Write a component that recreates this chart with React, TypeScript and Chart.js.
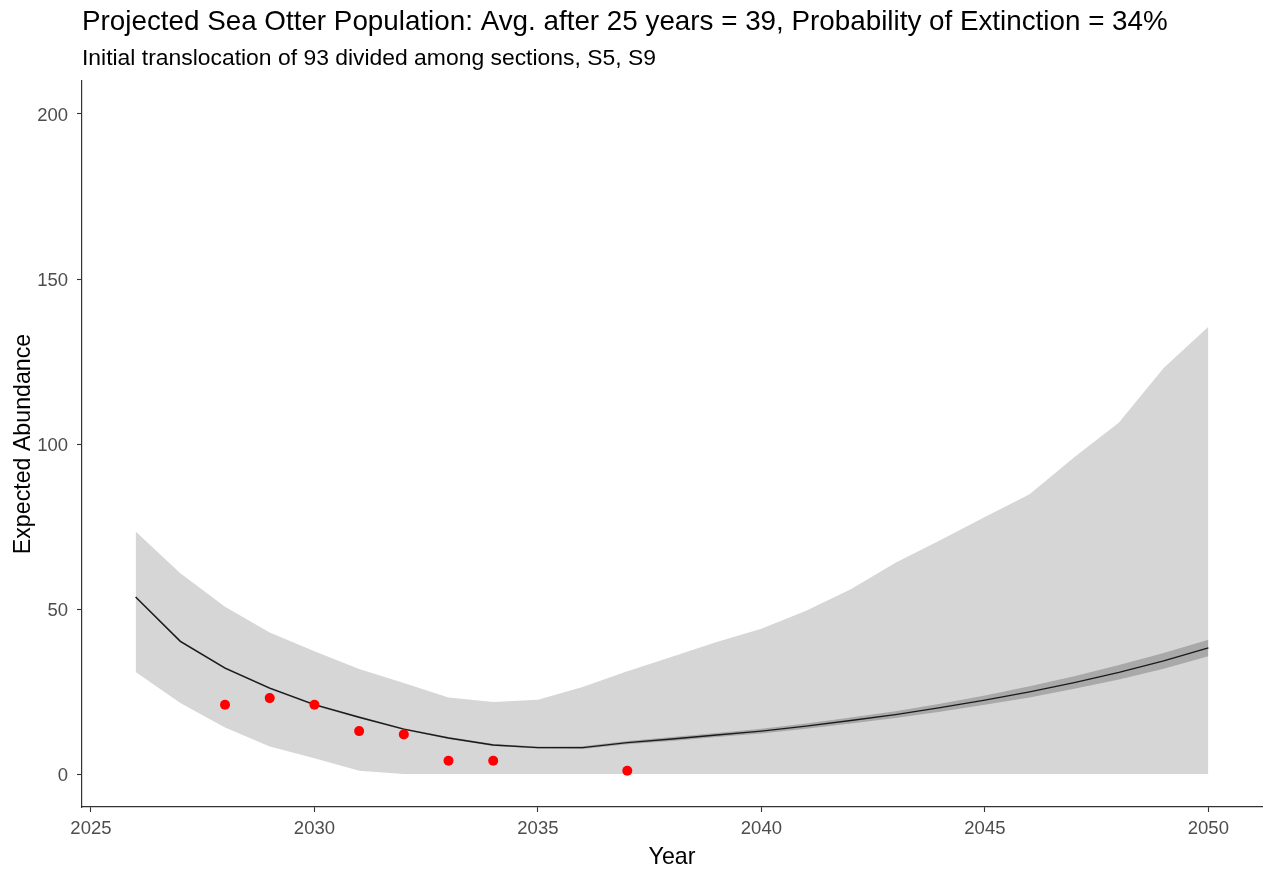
import { useEffect, useRef } from "react";
import { Chart, registerables } from "chart.js";

Chart.register(...registerables);

// Projection years
const years = [
  2026, 2027, 2028, 2029, 2030, 2031, 2032, 2033, 2034, 2035, 2036, 2037, 2038,
  2039, 2040, 2041, 2042, 2043, 2044, 2045, 2046, 2047, 2048, 2049, 2050,
];

// Mean projected abundance
const meanAbundance = [
  53.6, 40.2, 32.1, 26.0, 21.0, 17.2, 13.6, 10.9, 8.8, 8.0, 8.0, 9.5, 10.6,
  11.8, 13.0, 14.5, 16.2, 18.0, 20.1, 22.4, 24.9, 27.7, 30.8, 34.3, 38.2,
];

// Narrow band around the mean
const meanLower = [
  53.3, 39.9, 31.8, 25.7, 20.7, 16.9, 13.3, 10.6, 8.5, 7.7, 7.6, 9.0, 10.0,
  11.2, 12.3, 13.7, 15.3, 17.0, 18.9, 21.0, 23.2, 25.8, 28.6, 31.9, 35.7,
];
const meanUpper = [
  53.9, 40.5, 32.4, 26.3, 21.3, 17.5, 13.9, 11.2, 9.1, 8.3, 8.4, 10.0, 11.2,
  12.4, 13.7, 15.3, 17.1, 19.0, 21.3, 23.8, 26.6, 29.6, 33.0, 36.7, 40.7,
];

// Outer projection interval
const intervalLower = [
  30.9, 21.5, 14.1, 8.3, 4.8, 1.0, 0, 0, 0, 0, 0, 0, 0, 0, 0, 0, 0, 0, 0, 0, 0,
  0, 0, 0, 0,
];
const intervalUpper = [
  73.5, 60.8, 50.7, 42.9, 37.2, 31.8, 27.6, 23.2, 21.8, 22.5, 26.4, 31.1, 35.5,
  40.0, 44.0, 49.5, 56.0, 64.0, 70.8, 77.9, 84.8, 96.0, 106.5, 123.0, 135.5,
];

// Observed counts
const observedYears = [2028, 2029, 2030, 2031, 2032, 2033, 2034, 2037];
const observedCounts = [21, 23, 21, 13, 12, 4, 4, 1];

// Axis ticks
const xTickValues = [2025, 2030, 2035, 2040, 2045, 2050];
const yTickValues = [0, 50, 100, 150, 200];

const titleText =
  "Projected Sea Otter Population: Avg. after 25 years = 39, Probability of Extinction = 34%";
const subtitleText = "Initial translocation of 93 divided among sections, S5, S9";

const FONT = '"Liberation Sans", Arial, Helvetica, sans-serif';
const W = 1267;
const H = 869;

const pts = (ys: number[]) => years.map((x, i) => ({ x, y: ys[i] }));

const headingPlugin = {
  id: "heading",
  afterDraw(chart: Chart) {
    const ctx = chart.ctx;
    const left = chart.chartArea.left;
    ctx.save();
    ctx.fillStyle = "#000000";
    ctx.textAlign = "left";
    ctx.textBaseline = "alphabetic";
    ctx.font = `27.8px ${FONT}`;
    ctx.fillText(titleText, left, 30);
    ctx.font = `22.9px ${FONT}`;
    ctx.fillText(subtitleText, left, 65);
    ctx.restore();
  },
};

export default function App() {
  const canvasRef = useRef<HTMLCanvasElement | null>(null);

  useEffect(() => {
    const canvas = canvasRef.current;
    if (!canvas) return;

    const band = { borderWidth: 0, pointRadius: 0, tension: 0 };

    const chart = new Chart(canvas, {
      type: "line",
      data: {
        datasets: [
          {
            label: "lower",
            data: pts(intervalLower),
            ...band,
            fill: false,
            order: 6,
          },
          {
            label: "upper",
            data: pts(intervalUpper),
            ...band,
            backgroundColor: "#d6d6d6",
            fill: 0,
            order: 5,
          },
          {
            label: "meanLo",
            data: pts(meanLower),
            ...band,
            fill: false,
            order: 4,
          },
          {
            label: "meanHi",
            data: pts(meanUpper),
            ...band,
            backgroundColor: "#a9a9a9",
            fill: 2,
            order: 3,
          },
          {
            label: "mean",
            data: pts(meanAbundance),
            borderColor: "#1a1a1a",
            borderWidth: 1.4,
            pointRadius: 0,
            tension: 0,
            fill: false,
            order: 2,
          },
          {
            label: "observed",
            data: observedYears.map((x, i) => ({ x, y: observedCounts[i] })),
            showLine: false,
            pointRadius: 5,
            pointBackgroundColor: "#ff0000",
            pointBorderColor: "#ff0000",
            pointBorderWidth: 0,
            order: 1,
          },
        ],
      },
      options: {
        responsive: false,
        animation: false,
        events: [],
        layout: { padding: { top: 81, right: 2, left: 0, bottom: 0 } },
        plugins: {
          legend: { display: false },
          tooltip: { enabled: false },
          title: { display: false },
        },
        scales: {
          x: {
            type: "linear",
            min: 2024.8,
            max: 2051.2,
            afterBuildTicks: (scale: any) => {
              scale.ticks = xTickValues.map((value) => ({ value }));
            },
            afterFit: (scale: any) => {
              scale.height = H - 807;
            },
            ticks: {
              callback: (v: any) => String(v),
              color: "#4d4d4d",
              font: { family: FONT, size: 18.5 },
              padding: 6,
              maxRotation: 0,
              autoSkip: false,
            },
            grid: {
              drawOnChartArea: false,
              drawTicks: true,
              tickLength: 5,
              tickColor: "#333333",
              tickWidth: 1.1,
            },
            border: { display: true, color: "#333333", width: 1.2 },
            title: {
              display: true,
              text: "Year",
              color: "#000000",
              font: { family: FONT, size: 23.2, lineHeight: 1.0 },
              padding: { top: 0, bottom: 0 },
            },
          },
          y: {
            type: "linear",
            min: -10,
            max: 210,
            afterBuildTicks: (scale: any) => {
              scale.ticks = yTickValues.map((value) => ({ value }));
            },
            afterFit: (scale: any) => {
              scale.width = 82;
            },
            ticks: {
              callback: (v: any) => String(v),
              color: "#4d4d4d",
              font: { family: FONT, size: 18.5 },
              padding: 9,
              labelOffset: 2,
              autoSkip: false,
            },
            grid: {
              drawOnChartArea: false,
              drawTicks: true,
              tickLength: 5,
              tickColor: "#333333",
              tickWidth: 1.1,
            },
            border: { display: true, color: "#333333", width: 1.2 },
            title: {
              display: true,
              text: "Expected Abundance",
              color: "#000000",
              font: { family: FONT, size: 23.2 },
              padding: { top: 10, bottom: 0 },
            },
          },
        },
      },
      plugins: [headingPlugin],
    });

    return () => chart.destroy();
  }, []);

  return (
    <div
      style={{
        position: "fixed",
        left: 0,
        top: 0,
        width: W,
        height: H,
        background: "#ffffff",
      }}
    >
      <canvas ref={canvasRef} width={W} height={H} style={{ display: "block" }} />
    </div>
  );
}
